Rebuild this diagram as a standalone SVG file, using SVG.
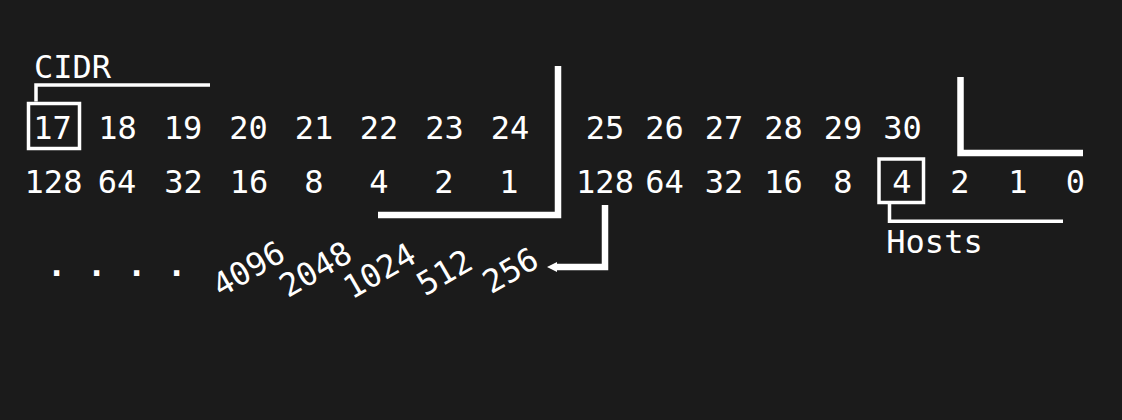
<svg xmlns="http://www.w3.org/2000/svg" width="1122" height="420" viewBox="0 0 1122 420">
<style>
  text { font-family: "DejaVu Sans Mono", "Liberation Mono", monospace; font-size: 32px; fill: #ffffff; text-anchor: middle; }
  .thin { fill: none; stroke: #ffffff; stroke-width: 3.5; stroke-linejoin: miter; }
  .thick { fill: none; stroke: #ffffff; stroke-width: 6.5; stroke-linejoin: miter; }
</style>
<rect width="1122" height="420" fill="#1b1b1b"/>

<g id="cidr-label"><text x="72.5" y="77.5">CIDR</text></g>
<g id="hosts-label"><text x="934.5" y="252.5">Hosts</text></g>

<g id="col-17"><rect class="thin" x="28.5" y="103.5" width="51" height="45"/><text x="52.5" y="138.5">17</text><text x="53.5" y="193">128</text></g>
<g id="col-18"><text x="117.5" y="138.5">18</text><text x="117" y="193">64</text></g>
<g id="col-19"><text x="183" y="138.5">19</text><text x="183.5" y="193">32</text></g>
<g id="col-20"><text x="248.5" y="138.5">20</text><text x="249" y="193">16</text></g>
<g id="col-21"><text x="314" y="138.5">21</text><text x="314" y="193">8</text></g>
<g id="col-22"><text x="379" y="138.5">22</text><text x="379" y="193">4</text></g>
<g id="col-23"><text x="444.5" y="138.5">23</text><text x="444" y="193">2</text></g>
<g id="col-24"><text x="510" y="138.5">24</text><text x="509" y="193">1</text></g>

<g id="col-25"><text x="605" y="138.5">25</text><text x="605" y="193">128</text></g>
<g id="col-26"><text x="664.5" y="138.5">26</text><text x="664.5" y="193">64</text></g>
<g id="col-27"><text x="724" y="138.5">27</text><text x="724" y="193">32</text></g>
<g id="col-28"><text x="783.5" y="138.5">28</text><text x="783.5" y="193">16</text></g>
<g id="col-29"><text x="843" y="138.5">29</text><text x="843" y="193">8</text></g>
<g id="col-30"><text x="902.5" y="138.5">30</text><rect class="thin" x="879" y="159" width="44.5" height="43.5"/><text x="902" y="193">4</text></g>
<g id="col-31"><text x="960" y="193">2</text></g>
<g id="col-32"><text x="1018" y="193">1</text></g>
<g id="col-33"><text x="1075.5" y="193">0</text></g>

<g id="dots"><text x="117" y="276" font-weight="bold" letter-spacing="0.7">. . . .</text></g>
<g id="v4096"><text transform="translate(254,278.5) rotate(-30)">4096</text></g>
<g id="v2048"><text transform="translate(321,279) rotate(-30)">2048</text></g>
<g id="v1024"><text transform="translate(385,280.5) rotate(-30)">1024</text></g>
<g id="v512"><text transform="translate(450,282) rotate(-30)">512</text></g>
<g id="v256"><text transform="translate(516,280) rotate(-30)">256</text></g>

<g id="connectors">
  <path class="thin" d="M36,101.5 V85 H210"/>
  <path class="thin" d="M889.5,204 V221.3 H1063"/>
  <path class="thick" d="M558,66 V215 H378"/>
  <path class="thick" d="M605,205 V267 H556"/>
  <path d="M557,262 L547,267 L557,272 Z" fill="#ffffff"/>
  <path class="thick" d="M960.5,77 V153 H1083"/>
</g>
</svg>
